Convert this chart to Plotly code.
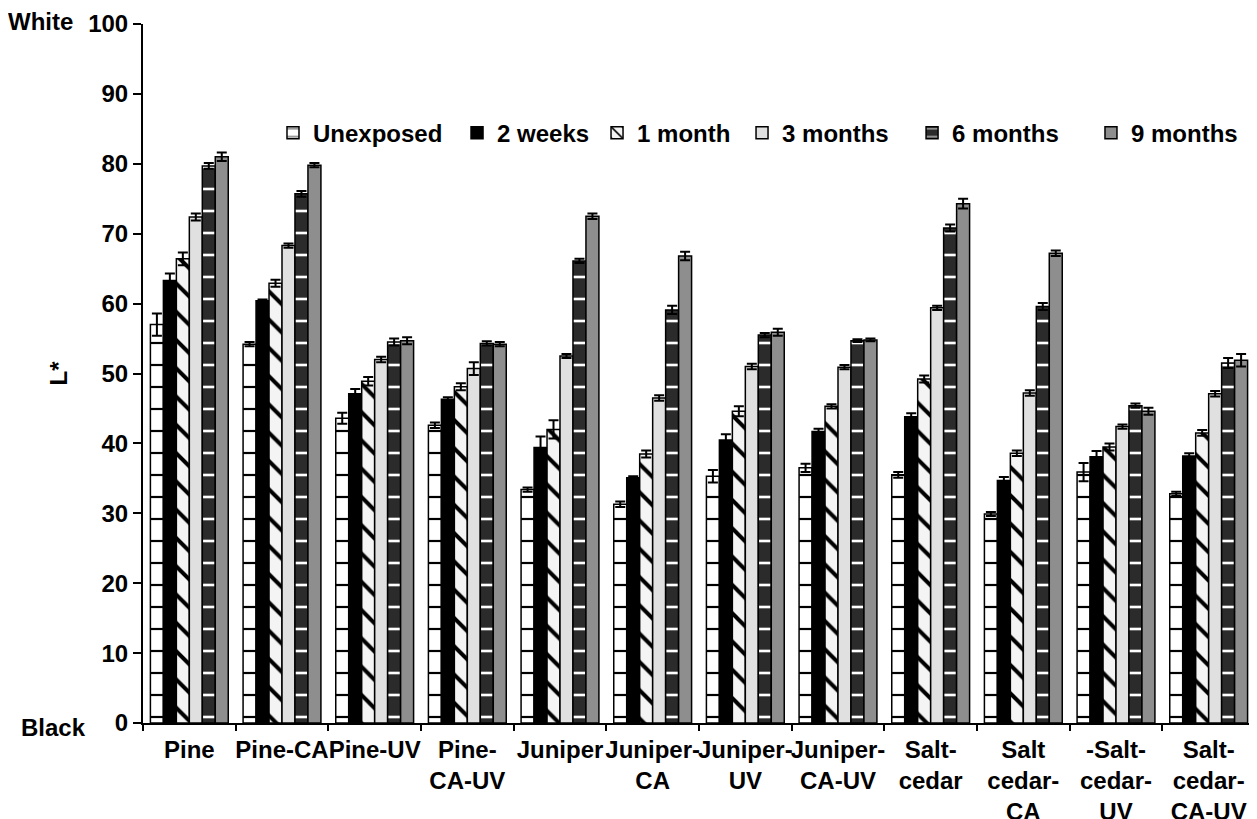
import plotly.graph_objects as go

categories = ["Pine", "Pine-CA", "Pine-UV", "Pine-<br>CA-UV", "Juniper", "Juniper-<br>CA",
              "Juniper-<br>UV", "Juniper-<br>CA-UV", "Salt-<br>cedar", "Salt<br>cedar-<br>CA",
              "-Salt-<br>cedar-<br>UV", "Salt-<br>cedar-<br>CA-UV"]

series_names = ["Unexposed", "2 weeks", "1 month", "3 months", "6 months", "9 months"]

unexposed = [57.0, 54.2, 43.6, 42.6, 33.4, 31.3, 35.3, 36.5, 35.5, 29.9, 35.9, 32.8]
weeks2    = [63.3, 60.4, 47.1, 46.3, 39.4, 35.1, 40.5, 41.7, 43.8, 34.7, 38.1, 38.2]
month1    = [66.4, 62.9, 48.9, 48.1, 42.0, 38.5, 44.6, 45.3, 49.2, 38.6, 39.5, 41.5]
months3   = [72.4, 68.3, 52.0, 50.7, 52.5, 46.5, 51.0, 50.9, 59.4, 47.2, 42.4, 47.1]
months6   = [79.7, 75.7, 54.5, 54.3, 66.1, 59.1, 55.5, 54.7, 70.8, 59.6, 45.4, 51.5]
months9   = [81.0, 79.8, 54.7, 54.2, 72.5, 66.8, 55.9, 54.8, 74.3, 67.2, 44.6, 51.9]

err_unexposed = [1.6, 0.3, 0.8, 0.4, 0.3, 0.4, 0.9, 0.6, 0.4, 0.3, 1.3, 0.3]
err_weeks2    = [1.0, 0.2, 0.7, 0.3, 1.6, 0.2, 0.8, 0.4, 0.5, 0.5, 0.8, 0.4]
err_month1    = [0.9, 0.5, 0.6, 0.5, 1.3, 0.5, 0.7, 0.3, 0.5, 0.4, 0.5, 0.4]
err_months3   = [0.5, 0.3, 0.4, 0.9, 0.3, 0.4, 0.4, 0.3, 0.3, 0.4, 0.3, 0.4]
err_months6   = [0.4, 0.4, 0.5, 0.3, 0.3, 0.6, 0.3, 0.2, 0.5, 0.5, 0.3, 0.7]
err_months9   = [0.6, 0.3, 0.5, 0.3, 0.4, 0.6, 0.5, 0.2, 0.7, 0.4, 0.5, 0.9]

values = [unexposed, weeks2, month1, months3, months6, months9]
errors = [err_unexposed, err_weeks2, err_month1, err_months3, err_months6, err_months9]

styles = [
    dict(color="white", pattern=dict(shape="-", bgcolor="white", fgcolor="black", fgopacity=1,
                                     size=22, solidity=0.1)),
    dict(color="black"),
    dict(color="#f4f4f4", pattern=dict(shape="\\", bgcolor="#f4f4f4", fgcolor="black", fgopacity=1,
                                       size=20, solidity=0.2)),
    dict(color="#e0e0e0"),
    dict(color="#2b2b2b", pattern=dict(shape="-", bgcolor="#2b2b2b", fgcolor="white", fgopacity=1,
                                       size=22, solidity=0.12)),
    dict(color="#8e8e8e"),
]

# legend entry positions (paper x), one legend per series
legend_x = [0.1169, 0.2824, 0.4083, 0.5387, 0.6916, 0.8525]
legend_ids = ["legend", "legend2", "legend3", "legend4", "legend5", "legend6"]

FONT = "Liberation Sans, Arial, sans-serif"
FS = 24

fig = go.Figure()
for name, vals, errs, st, lid in zip(series_names, values, errors, styles, legend_ids):
    marker = dict(color=st["color"], line=dict(color="black", width=1.5))
    if "pattern" in st:
        marker["pattern"] = st["pattern"]
    fig.add_trace(go.Bar(
        x=categories, y=vals, name=name, marker=marker, legend=lid,
        error_y=dict(type="data", array=errs, visible=True, color="black", thickness=2, width=5),
    ))

legend_layout = {}
for lid, lx in zip(legend_ids, legend_x):
    legend_layout[lid] = dict(orientation="h", x=lx, y=0.844, xanchor="left", yanchor="middle",
                              font=dict(family=FONT, size=FS, color="black", weight="bold"),
                              bgcolor="rgba(0,0,0,0)", itemwidth=30)

fig.update_layout(
    width=1249, height=811,
    margin=dict(l=135, r=2, t=16, b=96),
    plot_bgcolor="white", paper_bgcolor="white",
    barmode="group", bargap=0.16, bargroupgap=0,
    font=dict(family=FONT, size=FS, color="black", weight="bold"),
    showlegend=True,
    xaxis=dict(showline=True, linecolor="black", linewidth=2, ticks="outside", ticklen=6,
               tickwidth=2, tickcolor="black", tickson="boundaries", showgrid=False,
               tickangle=0, automargin=False, ticklabelstandoff=4,
               tickfont=dict(family=FONT, size=FS, color="black", weight="bold")),
    yaxis=dict(range=[0, 100], dtick=10, showline=True, linecolor="black", linewidth=2,
               ticks="outside", ticklen=8, tickwidth=2, tickcolor="black", showgrid=False,
               zeroline=False, automargin=False,
               tickfont=dict(family=FONT, size=FS, color="black", weight="bold"),
               title=dict(text="L*", standoff=14,
                          font=dict(family=FONT, size=FS, color="black", weight="bold"))),
    annotations=[
        dict(text="White", xref="paper", yref="paper", x=-0.0612, y=1.003, xanchor="right",
             yanchor="middle", showarrow=False,
             font=dict(family=FONT, size=FS, color="black", weight="bold")),
        dict(text="Black", xref="paper", yref="paper", x=-0.0495, y=-0.006, xanchor="right",
             yanchor="middle", showarrow=False,
             font=dict(family=FONT, size=FS, color="black", weight="bold")),
    ],
    **legend_layout,
)

fig.write_html("out.html")
